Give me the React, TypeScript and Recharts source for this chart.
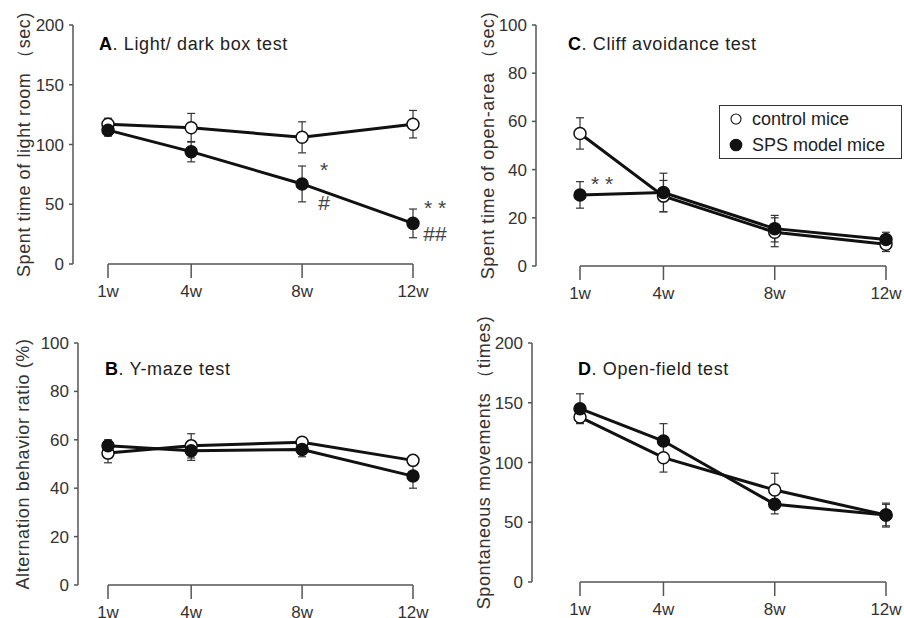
import React from "react";
import {
  ErrorBar,
  Legend,
  Line,
  LineChart,
  ReferenceDot,
  ReferenceLine,
  XAxis,
  YAxis,
} from "recharts";

// x positions (weeks after SPS)
const weeks = [1, 4, 8, 12];
const seriesNames = ["control mice", "SPS model mice"];

// A. Light/ dark box test (sec)
const lightControl = [117, 114, 106, 117];
const lightControlErr = [5, 12, 13, 11.5];
const lightSps = [112, 94, 67, 34];
const lightSpsErr = [5, 8.5, 15, 12];
const lightTicks = [0, 50, 100, 150, 200];

// B. Y-maze test (%)
const mazeControl = [54.5, 57.5, 59, 51.5];
const mazeControlErr = [4, 5, 1, 1.5];
const mazeSps = [57.5, 55.5, 56, 45];
const mazeSpsErr = [2.5, 4, 3, 5];
const mazeTicks = [0, 20, 40, 60, 80, 100];

// C. Cliff avoidance test (sec)
const cliffControl = [55, 29, 14, 9];
const cliffControlErr = [6.5, 6.5, 6, 3];
const cliffSps = [29.5, 30.5, 15.5, 11];
const cliffSpsErr = [5.5, 8, 5.5, 3];
const cliffTicks = [0, 20, 40, 60, 80, 100];

// D. Open-field test (times)
const fieldControl = [138, 104, 77, 56];
const fieldControlErr = [5, 12, 14, 9];
const fieldSps = [145, 118, 65, 56];
const fieldSpsErr = [12.5, 14.5, 8, 10];
const fieldTicks = [0, 50, 100, 150, 200];

type Note = { week: number; value: number; text: string };

const lightNotes: Note[] = [
  { week: 8, value: 73, text: "*" },
  { week: 8, value: 45, text: "#" },
  { week: 12, value: 41, text: "* *" },
  { week: 12, value: 19, text: "##" },
];
const cliffNotes: Note[] = [{ week: 1, value: 31, text: "* *" }];

const FONT = '"Liberation Sans", Arial, Helvetica, sans-serif';
const INK = "#111";
const AXIS = "#555";
const TEXT = "#333";
const NOTE_DX = 22;

type Margin = { top: number; right: number; bottom: number; left: number };

type PanelProps = {
  left: number;
  top: number;
  width: number;
  height: number;
  margin: Margin;
  yAxisWidth: number;
  padLeft: number;
  ticks: number[];
  yLabel: string;
  labelX: number;
  letter: string;
  title: string;
  titleX: number;
  titleY: number;
  control: number[];
  controlErr: number[];
  sps: number[];
  spsErr: number[];
  notes?: Note[];
  legend?: boolean;
};

function MiceLegend() {
  return (
    <div
      style={{
        width: 183,
        boxSizing: "border-box",
        border: `1.5px solid ${TEXT}`,
        background: "#fff",
        padding: "0 0 0 9px",
        fontFamily: FONT,
        fontSize: 18,
        color: "#222",
        lineHeight: "26px",
      }}
    >
      {seriesNames.map((name, i) => (
        <div key={name} style={{ display: "flex", alignItems: "center" }}>
          <svg width={14} height={14} style={{ marginRight: 9 }}>
            <circle
              cx={7}
              cy={7}
              r={i === 0 ? 5 : 5.8}
              fill={i === 0 ? "#fff" : INK}
              stroke={INK}
              strokeWidth={1.1}
            />
          </svg>
          {name}
        </div>
      ))}
    </div>
  );
}

function NoteText(props: any) {
  const { cx, cy, text } = props;
  return (
    <text
      x={cx + NOTE_DX}
      y={cy}
      textAnchor="middle"
      fontFamily={FONT}
      fontSize={21}
      fill="#444"
    >
      {text}
    </text>
  );
}

function Panel(p: PanelProps) {
  const rows = weeks.map((week, i) => ({
    week,
    control: p.control[i],
    controlErr: p.controlErr[i],
    sps: p.sps[i],
    spsErr: p.spsErr[i],
  }));
  const yMin = p.ticks[0];
  const yMax = p.ticks[p.ticks.length - 1];
  const tickStyle = { fill: TEXT, fontSize: 17, fontFamily: FONT };

  return (
    <div style={{ position: "absolute", left: p.left, top: p.top }}>
      <LineChart width={p.width} height={p.height} data={rows} margin={p.margin}>
        <XAxis
          type="number"
          dataKey="week"
          domain={[1, 12]}
          ticks={weeks}
          tickFormatter={(w) => `${w}w`}
          axisLine={false}
          tickLine={{ stroke: AXIS, strokeWidth: 1.5 }}
          tickSize={14}
          tickMargin={7}
          padding={{ left: p.padLeft, right: 0 }}
          height={30}
          tick={tickStyle}
        />
        <YAxis
          type="number"
          domain={[yMin, yMax]}
          ticks={p.ticks}
          width={p.yAxisWidth}
          axisLine={{ stroke: AXIS, strokeWidth: 1.5 }}
          tickLine={{ stroke: AXIS, strokeWidth: 1.5 }}
          tickSize={4}
          tickMargin={5}
          tick={tickStyle}
          label={{
            value: p.yLabel,
            angle: -90,
            position: "insideLeft",
            offset: p.labelX,
            style: {
              textAnchor: "middle",
              fill: TEXT,
              fontSize: 18,
              fontFamily: FONT,
              letterSpacing: 0.6,
            },
          }}
        />
        <ReferenceLine
          segment={[
            { x: 1, y: yMin },
            { x: 12, y: yMin },
          ]}
          stroke={AXIS}
          strokeWidth={1.5}
          ifOverflow="visible"
        />
        <Line
          type="linear"
          dataKey="control"
          name={seriesNames[0]}
          stroke={INK}
          strokeWidth={3}
          dot={{ r: 6, fill: "#fff", stroke: INK, strokeWidth: 1.5 }}
          activeDot={false}
          isAnimationActive={false}
        >
          <ErrorBar
            dataKey="controlErr"
            direction="y"
            width={4}
            stroke={TEXT}
            strokeWidth={1.2}
            isAnimationActive={false}
          />
        </Line>
        <Line
          type="linear"
          dataKey="sps"
          name={seriesNames[1]}
          stroke={INK}
          strokeWidth={3}
          dot={{ r: 6, fill: INK, stroke: INK, strokeWidth: 1.5 }}
          activeDot={false}
          isAnimationActive={false}
        >
          <ErrorBar
            dataKey="spsErr"
            direction="y"
            width={4}
            stroke={TEXT}
            strokeWidth={1.2}
            isAnimationActive={false}
          />
        </Line>
        {(p.notes ?? []).map((n, i) => (
          <ReferenceDot
            key={i}
            x={n.week}
            y={n.value}
            r={0}
            shape={(props: any) => <NoteText {...props} text={n.text} />}
          />
        ))}
        {p.legend && (
          <Legend
            layout="vertical"
            align="center"
            verticalAlign="middle"
            wrapperStyle={{ left: 269, top: 105, width: 183 }}
            content={() => <MiceLegend />}
          />
        )}
      </LineChart>
      <div
        style={{
          position: "absolute",
          left: p.titleX,
          top: p.titleY,
          fontFamily: FONT,
          fontSize: 18,
          letterSpacing: 0.6,
          lineHeight: 1,
          color: "#222",
          whiteSpace: "nowrap",
        }}
      >
        <b style={{ color: "#000" }}>{p.letter}</b>. {p.title}
      </div>
    </div>
  );
}

export default function App() {
  return (
    <div
      style={{
        position: "absolute",
        left: 0,
        top: 0,
        width: 904,
        height: 618,
        background: "#fff",
        overflow: "hidden",
      }}
    >
      <Panel
        left={0}
        top={0}
        width={452}
        height={309}
        margin={{ top: 25, right: 39, bottom: 15, left: 0 }}
        yAxisWidth={73}
        padLeft={35}
        ticks={lightTicks}
        yLabel="Spent time of light room （sec)"
        labelX={24}
        letter="A"
        title="Light/ dark box test"
        titleX={99}
        titleY={35}
        control={lightControl}
        controlErr={lightControlErr}
        sps={lightSps}
        spsErr={lightSpsErr}
        notes={lightNotes}
      />
      <Panel
        left={450}
        top={0}
        width={454}
        height={309}
        margin={{ top: 25, right: 18, bottom: 13, left: 0 }}
        yAxisWidth={86}
        padLeft={44}
        ticks={cliffTicks}
        yLabel="Spent time of open-area （sec)"
        labelX={38}
        letter="C"
        title="Cliff avoidance test"
        titleX={118}
        titleY={35}
        control={cliffControl}
        controlErr={cliffControlErr}
        sps={cliffSps}
        spsErr={cliffSpsErr}
        notes={cliffNotes}
        legend
      />
      <Panel
        left={0}
        top={309}
        width={452}
        height={309}
        margin={{ top: 34, right: 39, bottom: 3, left: 0 }}
        yAxisWidth={78}
        padLeft={30}
        ticks={mazeTicks}
        yLabel="Alternation behavior ratio (%)"
        labelX={23}
        letter="B"
        title="Y-maze test"
        titleX={105}
        titleY={51}
        control={mazeControl}
        controlErr={mazeControlErr}
        sps={mazeSps}
        spsErr={mazeSpsErr}
      />
      <Panel
        left={450}
        top={309}
        width={454}
        height={309}
        margin={{ top: 34, right: 18, bottom: 6, left: 0 }}
        yAxisWidth={82}
        padLeft={48}
        ticks={fieldTicks}
        yLabel="Spontaneous movements （times)"
        labelX={34}
        letter="D"
        title="Open-field test"
        titleX={128}
        titleY={51}
        control={fieldControl}
        controlErr={fieldControlErr}
        sps={fieldSps}
        spsErr={fieldSpsErr}
      />
    </div>
  );
}
